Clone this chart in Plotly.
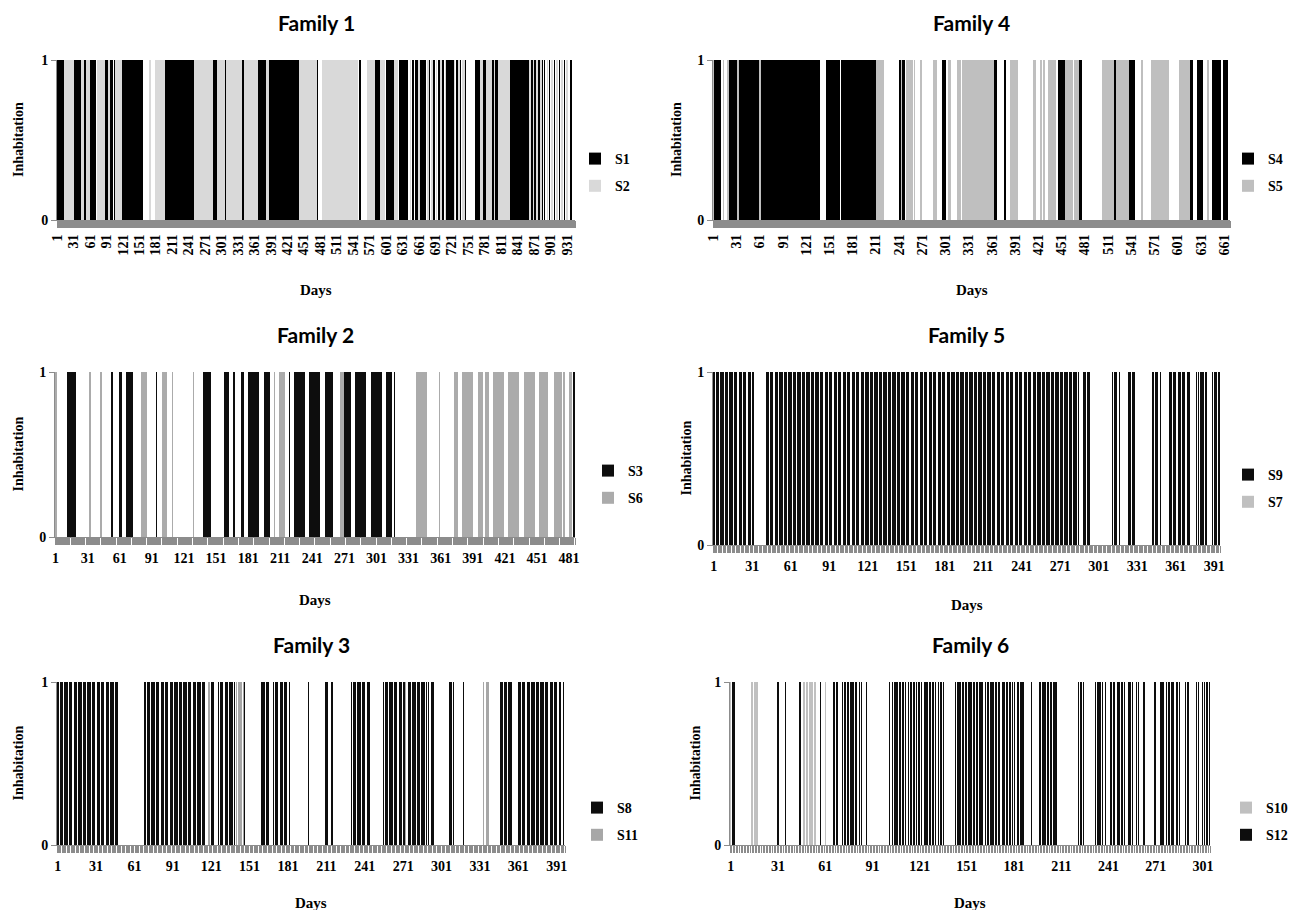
import plotly.graph_objects as go

W, H = 1306, 910

# ---------------- DATA (runs of inhabited days: [first_day, last_day, series_index]) ----------------
f1_title = "Family 1"
f1_days = 945
f1_series = ["S1", "S2"]
f1_runs = [[1,12,1],[15,22,2],[23,23,1],[26,31,2],[33,44,1],[45,49,2],[50,54,1],[55,60,2],[61,70,1],
           [74,87,2],[88,94,1],[95,95,2],[96,102,1],[105,107,1],[108,110,2],[111,113,1],[114,118,2],
           [119,142,1],[145,156,1],[170,170,2],[180,183,2],[187,197,2],[198,250,1],[251,284,2],[285,293,1],
           [294,305,2],[306,310,1],[311,336,2],[337,340,1],[343,366,2],[367,382,1],[383,386,2],[387,442,1],
           [443,473,2],[474,476,1],[486,549,2],[553,553,1],[568,580,2],[581,591,1],[592,597,2],[603,614,1],
           [617,622,2],[625,637,1],[640,640,1],[645,645,2],[650,650,1],[655,658,1],[660,662,2],[663,668,1],
           [672,672,1],[676,677,2],[680,680,1],[685,685,2],[688,689,1],[693,693,2],[697,697,1],[700,702,2],
           [705,706,1],[709,709,2],[712,723,1],[726,726,2],[729,730,1],[734,734,2],[737,737,1],[741,743,2],
           [745,745,1],[765,772,1],[773,776,2],[777,783,1],[784,793,2],[794,797,1],[799,799,2],[801,804,1],
           [806,806,2],[807,808,1],[809,826,2],[827,861,1],[863,863,2],[866,867,1],[870,870,2],[873,873,1],
           [876,877,2],[880,880,1],[883,883,2],[886,886,1],[890,890,1],[895,895,2],[899,899,1],[904,904,2],
           [908,908,1],[913,913,2],[917,917,1],[922,922,2],[926,926,1],[931,931,2],[937,939,1]]

f4_title = "Family 4"
f4_days = 668
f4_series = ["S4", "S5"]
f4_runs = [[1,1,2],[2,10,1],[14,14,2],[20,20,2],[22,32,1],[33,33,2],[34,45,1],[47,60,1],[61,61,2],
           [62,73,1],[75,80,1],[82,99,1],[101,108,1],[110,119,1],[121,130,1],[132,134,1],[136,137,1],
           [147,163,1],[167,176,1],[179,211,1],[212,220,2],[242,243,1],[244,244,2],[245,248,1],[251,255,2],
           [258,258,2],[261,261,2],[269,270,2],[286,289,2],[298,300,1],[305,307,2],[317,320,2],[323,332,2],
           [334,335,2],[337,338,2],[340,356,2],[358,360,2],[362,363,2],[364,366,1],[377,378,1],[386,388,2],
           [390,394,2],[415,417,2],[424,424,2],[428,428,2],[434,442,2],[447,455,1],[456,457,2],[459,461,2],
           [463,465,2],[468,469,2],[471,472,2],[473,476,1],[504,512,2],[514,518,2],[519,521,1],[522,537,2],
           [538,540,1],[542,544,1],[555,555,2],[567,588,2],[604,606,2],[608,610,2],[613,616,2],[617,620,1],
           [627,632,1],[640,640,2],[646,656,1],[661,662,1],[664,665,1]]

f2_title = "Family 2"
f2_days = 486
f2_series = ["S3", "S6"]
f2_runs = [[1,2,2],[6,7,1],[9,9,1],[12,22,1],[33,37,2],[43,44,2],[51,54,1],[61,73,1],[78,86,2],[95,95,1],
           [101,110,2],[121,121,2],[130,130,2],[139,146,1],[159,168,1],[175,201,1],[206,215,2],[220,260,1],
           [264,270,2],[271,315,1],[318,318,1],[322,322,1],[338,348,2],[352,352,2],[360,360,2],[374,400,2],
           [403,461,2],[464,474,2],[476,483,2],[485,486,1]]

f5_title = "Family 5"
f5_days = 395
f5_series = ["S9", "S7"]
f5_runs = [[1,32,1],[42,285,1],[289,294,1],[312,317,1],[324,329,1],[343,349,1],[356,372,1],[376,377,1],
           [379,385,1],[390,395,1]]

f3_title = "Family 3"
f3_days = 397
f3_series = ["S8", "S11"]
f3_runs = [[1,48,1],[69,116,1],[119,120,2],[121,124,1],[127,139,1],[141,146,2],[147,147,1],[160,166,1],
           [170,182,1],[197,197,1],[210,212,1],[215,216,1],[231,245,1],[249,249,1],[256,272,1],[273,273,2],
           [274,289,1],[291,295,1],[307,310,1],[318,318,1],[334,338,2],[347,356,1],[361,394,1],[396,396,1]]

f6_title = "Family 6"
f6_days = 305
f6_series = ["S10", "S12"]
f6_runs = [[1,1,1],[2,3,2],[14,18,1],[31,31,2],[36,36,2],[45,45,2],[47,55,1],[58,58,2],[61,61,1],
           [66,69,2],[72,81,2],[83,84,2],[87,87,2],[102,102,2],[104,112,2],[114,122,2],[124,131,2],
           [133,136,2],[144,161,2],[163,172,2],[174,181,2],[183,187,2],[192,192,2],[197,208,2],[222,225,2],
           [233,237,2],[239,239,2],[242,245,2],[247,251,2],[254,256,2],[259,260,2],[263,264,2],[270,271,2],
           [274,276,2],[278,282,2],[284,286,2],[290,292,2],[297,298,2],[301,305,2]]

tick_step = 30

# ---------------- STYLE / LAYOUT ----------------
SERIF = "Liberation Serif, Times New Roman, serif"
SANS = "Lato, Carlito, Calibri, sans-serif"
DARK = "rgba(10,10,10,0.99)"

panels = [
    dict(title=f1_title, n=f1_days, names=f1_series, runs=f1_runs, box=(57, 575, 60, 220),
         colors=["#000000", "#d9d9d9"], width=1.0, angle=-90, leg=(575, 143), ylab_x=18, days_y=290),
    dict(title=f4_title, n=f4_days, names=f4_series, runs=f4_runs, box=(713, 1230, 60, 220),
         colors=["#000000", "#bfbfbf"], width=1.0, angle=-90, leg=(1228, 143), ylab_x=676, days_y=290),
    dict(title=f2_title, n=f2_days, names=f2_series, runs=f2_runs, box=(55, 575, 372, 537),
         colors=[DARK, "rgba(170,170,170,0.99)"], width=0.72, angle=0, leg=(588, 455),
         ylab_x=18, days_y=600),
    dict(title=f5_title, n=f5_days, names=f5_series, runs=f5_runs, box=(713, 1220, 372, 545),
         colors=[DARK, "rgba(191,191,191,0.99)"], width=0.72, angle=0, leg=(1228, 459),
         ylab_x=686, days_y=605),
    dict(title=f3_title, n=f3_days, names=f3_series, runs=f3_runs, box=(57, 565, 682, 845),
         colors=[DARK, "rgba(166,166,166,0.99)"], width=0.72, angle=0, leg=(577, 792),
         ylab_x=18, days_y=903),
    dict(title=f6_title, n=f6_days, names=f6_series, runs=f6_runs, box=(730, 1210, 682, 845),
         colors=["rgba(191,191,191,0.99)", DARK], width=0.72, angle=0, leg=(1226, 792),
         ylab_x=695, days_y=903),
]


def expand(n, runs):
    a = [0] * n
    b = [0] * n
    for s, e, c in runs:
        for d in range(s, e + 1):
            (a if c == 1 else b)[d - 1] = 1
    return a, b


fig = go.Figure()
layout = dict(width=W, height=H, margin=dict(l=0, r=0, t=0, b=0, pad=0, autoexpand=False),
              paper_bgcolor="white", plot_bgcolor="white", showlegend=True, bargap=0, bargroupgap=0,
              barmode="overlay", annotations=[])

for i, p in enumerate(panels, start=1):
    sfx = "" if i == 1 else str(i)
    x0, x1, y0, y1 = p["box"]
    n = p["n"]
    days = list(range(1, n + 1))
    va, vb = expand(n, p["runs"])
    legname = "legend" + sfx
    for k, (vals, nm, col) in enumerate(zip((va, vb), p["names"], p["colors"])):
        fig.add_trace(go.Bar(x=days, y=vals, name=nm, width=p["width"],
                             marker=dict(color=col, line=dict(width=0)),
                             xaxis="x" + sfx, yaxis="y" + sfx, legend=legname,
                             legendgroup=f"g{i}_{k}", hoverinfo="x+y+name"))
    tv = list(range(1, n + 1, tick_step))
    layout["xaxis" + sfx] = dict(
        domain=[x0 / W, x1 / W], anchor="y" + sfx, range=[0.5, n + 0.5], automargin=False,
        tickmode="array", tickvals=tv, ticktext=[str(v) for v in tv], tickangle=p["angle"],
        ticks="outside", ticklen=8, tickcolor="rgba(0,0,0,0)",
        tickfont=dict(family=SERIF, size=14, color="black", weight="bold"),
        showline=True, linecolor="#8c8c8c", linewidth=1, showgrid=False, zeroline=False,
        minor=dict(ticks="outside", tickmode="linear", tick0=0.5, dtick=1, ticklen=7,
                   tickcolor="#8c8c8c", tickwidth=1, showgrid=False),
        fixedrange=True)
    layout["yaxis" + sfx] = dict(
        domain=[1 - y1 / H, 1 - y0 / H], anchor="x" + sfx, range=[0, 1], automargin=False,
        tickmode="array", tickvals=[0, 1], ticktext=["0", "1"],
        ticks="outside", ticklen=5, tickcolor="#8c8c8c",
        tickfont=dict(family=SERIF, size=14, color="black", weight="bold"),
        showline=True, linecolor="#8c8c8c", linewidth=1, showgrid=True, gridcolor="#bfbfbf",
        zeroline=False, fixedrange=True)
    lx, ly = p["leg"]
    layout[legname] = dict(x=lx / W, y=1 - ly / H, xanchor="left", yanchor="top",
                           font=dict(family=SERIF, size=14, color="black", weight="bold"),
                           bgcolor="rgba(0,0,0,0)", itemwidth=30, traceorder="grouped",
                           tracegroupgap=6)
    cx = (x0 + x1) / 2
    layout["annotations"] += [
        dict(text=p["title"], x=cx / W, y=1 - (y0 - 38) / H, xref="paper", yref="paper",
             showarrow=False, xanchor="center", yanchor="middle",
             font=dict(family=SANS, size=21, color="black", weight="bold")),
        dict(text="Days", x=cx / W, y=1 - p["days_y"] / H, xref="paper", yref="paper",
             showarrow=False, xanchor="center", yanchor="middle",
             font=dict(family=SERIF, size=15, color="black", weight="bold")),
        dict(text="Inhabitation", x=p["ylab_x"] / W, y=1 - ((y0 + y1) / 2) / H, xref="paper",
             yref="paper", showarrow=False, textangle=-90, xanchor="center", yanchor="middle",
             font=dict(family=SERIF, size=14, color="black", weight="bold")),
    ]

fig.update_layout(**layout)
fig.write_html("out.html", config={"displayModeBar": False},
               post_script="document.body.style.margin='0';")
